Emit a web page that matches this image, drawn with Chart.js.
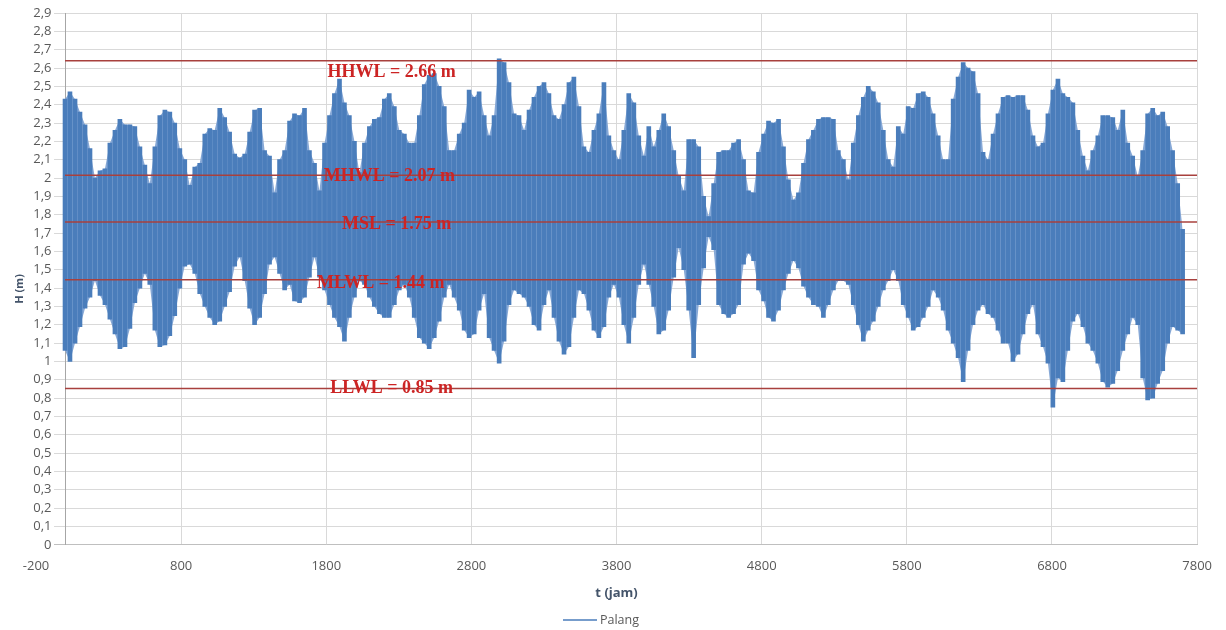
<!DOCTYPE html>
<html>
<head>
<meta charset="utf-8">
<script src="https://cdn.jsdelivr.net/npm/chart.js@4.4.1/dist/chart.umd.min.js"></script>
<style>
  html, body { margin: 0; padding: 0; background: #fff; }
  #wrap { width: 1226px; height: 630px; position: relative; }
</style>
</head>
<body>
<div id="wrap"><canvas id="tideChart"></canvas></div>
<script>
// hourly tide record, read as high / low envelope every ~34 h
const tideHours = [
  0, 34, 69, 103, 138, 172, 206, 241, 275, 309, 344, 378, 413, 447, 481, 516,
  550, 584, 619, 653, 688, 722, 756, 791, 825, 859, 894, 928, 963, 997, 1031, 1066,
  1100, 1134, 1169, 1203, 1238, 1272, 1306, 1341, 1375, 1409, 1444, 1478, 1513, 1547, 1581, 1616,
  1650, 1684, 1719, 1753, 1788, 1822, 1856, 1891, 1925, 1959, 1994, 2028, 2063, 2097, 2131, 2166,
  2200, 2234, 2269, 2303, 2338, 2372, 2406, 2441, 2475, 2509, 2544, 2578, 2613, 2647, 2681, 2716,
  2750, 2784, 2819, 2853, 2888, 2922, 2956, 2991, 3025, 3059, 3094, 3128, 3163, 3197, 3231, 3266,
  3300, 3334, 3369, 3403, 3438, 3472, 3506, 3541, 3575, 3609, 3644, 3678, 3713, 3747, 3781, 3816,
  3850, 3884, 3919, 3953, 3988, 4022, 4056, 4091, 4125, 4159, 4194, 4228, 4263, 4297, 4331, 4366,
  4400, 4434, 4469, 4503, 4538, 4572, 4606, 4641, 4675, 4709, 4744, 4778, 4813, 4847, 4881, 4916,
  4950, 4984, 5019, 5053, 5088, 5122, 5156, 5191, 5225, 5259, 5294, 5328, 5363, 5397, 5431, 5466,
  5500, 5534, 5569, 5603, 5638, 5672, 5706, 5741, 5775, 5809, 5844, 5878, 5913, 5947, 5981, 6016,
  6050, 6084, 6119, 6153, 6188, 6222, 6256, 6291, 6325, 6359, 6394, 6428, 6463, 6497, 6531, 6566,
  6600, 6634, 6669, 6703, 6738, 6772, 6806, 6841, 6875, 6909, 6944, 6978, 7013, 7047, 7081, 7116,
  7150, 7184, 7219, 7253, 7288, 7322, 7356, 7391, 7425, 7459, 7494, 7528, 7563, 7597, 7631, 7666,
  7700
];

const highWater = [
  2.43, 2.47, 2.43, 2.36, 2.29, 2.16, 2.00, 2.04, 2.05, 2.19, 2.26, 2.32, 2.29, 2.29, 2.28, 2.17, 2.07, 1.97, 2.17, 2.34,
  2.37, 2.36, 2.30, 2.16, 2.10, 1.96, 2.06, 2.08, 2.24, 2.27, 2.26, 2.38, 2.33, 2.25, 2.13, 2.11, 2.13, 2.25, 2.37,
  2.38, 2.15, 2.12, 1.92, 2.10, 2.15, 2.31, 2.35, 2.34, 2.38, 2.15, 2.08, 1.93, 2.19, 2.34, 2.46, 2.54, 2.41, 2.34, 2.20,
  2.03, 2.19, 2.28, 2.32, 2.33, 2.43, 2.46, 2.39, 2.26, 2.24, 2.19, 2.19, 2.34, 2.51, 2.56, 2.57, 2.50, 2.39, 2.15,
  2.15, 2.24, 2.30, 2.48, 2.44, 2.47, 2.34, 2.23, 2.34, 2.65, 2.63, 2.52, 2.35, 2.34, 2.26, 2.37, 2.44, 2.50, 2.52, 2.46,
  2.34, 2.32, 2.40, 2.52, 2.55, 2.39, 2.17, 2.14, 2.26, 2.35, 2.52, 2.23, 2.15, 2.10, 2.26, 2.46, 2.41, 2.23, 2.12,
  2.28, 2.17, 2.26, 2.35, 2.28, 2.15, 2.01, 1.93, 2.21, 2.21, 2.17, 1.90, 1.79, 1.97, 2.14, 2.15, 2.15, 2.19, 2.21, 2.10,
  1.93, 1.92, 2.14, 2.24, 2.31, 2.30, 2.32, 2.17, 1.99, 1.88, 1.92, 2.08, 2.21, 2.26, 2.32, 2.33, 2.33, 2.32, 2.15,
  2.10, 1.99, 2.19, 2.34, 2.44, 2.50, 2.47, 2.41, 2.26, 2.10, 2.06, 2.28, 2.24, 2.39, 2.38, 2.46, 2.47, 2.44, 2.35, 2.23,
  2.10, 2.10, 2.43, 2.55, 2.63, 2.60, 2.58, 2.46, 2.14, 2.10, 2.24, 2.35, 2.44, 2.45, 2.44, 2.45, 2.45, 2.37, 2.23,
  2.17, 2.19, 2.35, 2.48, 2.54, 2.46, 2.44, 2.41, 2.26, 2.12, 2.04, 2.15, 2.23, 2.34, 2.34, 2.33, 2.26, 2.37, 2.19, 2.12,
  2.01, 2.15, 2.35, 2.38, 2.34, 2.36, 2.28, 2.15, 1.97, 1.72
];

const lowWater = [
  1.06, 1.00, 1.10, 1.19, 1.29, 1.35, 1.44, 1.36, 1.31, 1.23, 1.15, 1.07, 1.08, 1.18, 1.32, 1.40, 1.48, 1.42, 1.17, 1.08,
  1.09, 1.14, 1.25, 1.40, 1.52, 1.53, 1.48, 1.37, 1.30, 1.24, 1.20, 1.22, 1.30, 1.38, 1.52, 1.57, 1.44, 1.29, 1.20,
  1.24, 1.37, 1.53, 1.57, 1.48, 1.39, 1.42, 1.33, 1.32, 1.35, 1.46, 1.57, 1.46, 1.39, 1.31, 1.24, 1.19, 1.11, 1.24, 1.35,
  1.44, 1.42, 1.35, 1.30, 1.26, 1.24, 1.24, 1.31, 1.39, 1.42, 1.35, 1.24, 1.13, 1.10, 1.07, 1.13, 1.22, 1.35, 1.42,
  1.35, 1.28, 1.17, 1.13, 1.15, 1.28, 1.37, 1.13, 1.06, 0.99, 1.11, 1.31, 1.39, 1.37, 1.35, 1.30, 1.20, 1.17, 1.31, 1.39,
  1.24, 1.11, 1.04, 1.08, 1.24, 1.39, 1.37, 1.28, 1.17, 1.13, 1.19, 1.35, 1.42, 1.35, 1.20, 1.10, 1.24, 1.42, 1.53,
  1.42, 1.30, 1.15, 1.17, 1.28, 1.46, 1.62, 1.50, 1.28, 1.02, 1.31, 1.51, 1.68, 1.61, 1.31, 1.26, 1.24, 1.26, 1.31, 1.53,
  1.59, 1.55, 1.39, 1.33, 1.24, 1.22, 1.28, 1.39, 1.48, 1.55, 1.51, 1.41, 1.35, 1.31, 1.30, 1.24, 1.31, 1.39, 1.44,
  1.44, 1.42, 1.31, 1.20, 1.11, 1.17, 1.22, 1.30, 1.39, 1.44, 1.50, 1.44, 1.31, 1.24, 1.17, 1.19, 1.24, 1.30, 1.39, 1.35,
  1.28, 1.17, 1.10, 1.02, 0.89, 1.06, 1.20, 1.28, 1.31, 1.26, 1.24, 1.17, 1.10, 1.10, 1.00, 1.04, 1.15, 1.26, 1.31,
  1.15, 1.08, 0.99, 0.75, 0.91, 0.89, 1.06, 1.22, 1.26, 1.19, 1.10, 1.06, 0.99, 0.89, 0.86, 0.88, 0.95, 1.06, 1.15, 1.24,
  1.20, 0.91, 0.79, 0.80, 0.88, 0.95, 1.10, 1.19, 1.17, 1.15
];

const levelNames = ["HHWL = 2.66 m", "MHWL = 2.07 m", "MSL = 1.75 m", "MLWL = 1.44 m", "LLWL = 0.85 m"];
const levelValues = [2.64, 2.015, 1.76, 1.445, 0.853];

const xTickValues = [-200, 800, 1800, 2800, 3800, 4800, 5800, 6800, 7800];
const yTickValues = [0, 0.1, 0.2, 0.3, 0.4, 0.5, 0.6, 0.7, 0.8, 0.9, 1, 1.1, 1.2, 1.3, 1.4,
  1.5, 1.6, 1.7, 1.8, 1.9, 2, 2.1, 2.2, 2.3, 2.4, 2.5, 2.6, 2.7, 2.8, 2.9];

const seriesColor = "#4a7dbb";
const bandColor = "#86a8d6";
const levelColor = "#a8403d";
const gridColor = "#d9d9d9";
const tickColor = "#595959";
const titleColor = "#44546a";

// level captions sit on top of the record
const levelLabels = {
  id: "levelLabels",
  afterDatasetsDraw(chart, args, opts) {
    const { ctx, scales: { x, y } } = chart;
    ctx.save();
    ctx.font = "bold 18px 'Liberation Serif', 'Times New Roman', serif";
    ctx.fillStyle = opts.color;
    ctx.textAlign = "center";
    ctx.textBaseline = "middle";
    levelNames.forEach((name, i) => {
      ctx.fillText(name, x.getPixelForValue(opts.hours[i]), y.getPixelForValue(levelValues[i]) + opts.offsets[i]);
    });
    ctx.restore();
  }
};

// y title and bottom legend drawn by hand
const extras = {
  id: "extras",
  afterDraw(chart) {
    const { ctx, chartArea } = chart;
    ctx.save();
    ctx.fillStyle = titleColor;
    ctx.font = "bold 11px 'Open Sans', sans-serif";
    ctx.textAlign = "center";
    ctx.textBaseline = "middle";
    ctx.translate(20, (chartArea.top + chartArea.bottom) / 2 + 10);
    ctx.rotate(-Math.PI / 2);
    ctx.fillText("H (m)", 0, 0);
    ctx.restore();

    const series = chart.data.datasets.find((d) => d.label === "Palang");
    ctx.save();
    ctx.strokeStyle = series.backgroundColor;
    ctx.lineWidth = 1.5;
    ctx.beginPath();
    ctx.moveTo(563, 620);
    ctx.lineTo(597, 620);
    ctx.stroke();
    ctx.fillStyle = tickColor;
    ctx.font = "12.5px 'Open Sans', sans-serif";
    ctx.textBaseline = "middle";
    ctx.fillText(series.label, 600, 620);
    ctx.restore();
  }
};

const levelSets = levelValues.map((v) => ({
  type: "line",
  label: "level",
  data: [{ x: 0, y: v }, { x: 7800, y: v }],
  borderColor: levelColor,
  borderWidth: 1.5,
  pointRadius: 0,
  order: 0
}));

new Chart(document.getElementById("tideChart"), {
  type: "bar",
  data: {
    datasets: [
      ...levelSets,
      {
        label: "Palang",
        data: tideHours.map((h, i) => ({ x: h, y: [lowWater[i], highWater[i]] })),
        backgroundColor: seriesColor,
        borderWidth: 0,
        barThickness: 4,
        grouped: false,
        order: 1
      },
      {
        type: "line",
        label: "band-high",
        data: tideHours.map((h, i) => ({ x: h, y: highWater[i] })),
        borderWidth: 0,
        borderColor: "rgba(0,0,0,0)",
        pointRadius: 0,
        backgroundColor: bandColor,
        fill: "+1",
        order: 2
      },
      {
        type: "line",
        label: "band-low",
        data: tideHours.map((h, i) => ({ x: h, y: lowWater[i] })),
        borderWidth: 0,
        borderColor: "rgba(0,0,0,0)",
        pointRadius: 0,
        fill: false,
        order: 2
      }
    ]
  },
  options: {
    responsive: true,
    maintainAspectRatio: false,
    animation: false,
    devicePixelRatio: 1,
    layout: { padding: { left: 36, right: 23, top: 13, bottom: 17.5 } },
    plugins: {
      legend: { display: false },
      tooltip: { enabled: false },
      levelLabels: {
        color: "#cc2424",
        hours: [2250, 2235, 2285, 2175, 2250],
        offsets: [12, 1, 2, 4, 0]
      }
    },
    scales: {
      x: {
        type: "linear",
        min: -200,
        max: 7800,
        offset: false,
        afterBuildTicks: (s) => { s.ticks = xTickValues.map((v) => ({ value: v })); },
        grid: {
          color: (c) => (c.tick && c.tick.value === -200 ? "rgba(0,0,0,0)" : gridColor),
          drawTicks: false,
          offset: false
        },
        border: { color: "#bfbfbf" },
        ticks: {
          color: tickColor,
          font: { family: "'Open Sans', sans-serif", size: 13 },
          padding: 14,
          maxRotation: 0,
          autoSkip: false,
          callback: (v) => String(v)
        },
        title: {
          display: true,
          text: "t (jam)",
          color: titleColor,
          font: { family: "'Open Sans', sans-serif", size: 13, weight: "bold" },
          padding: { top: -2.5, bottom: 11 }
        }
      },
      y: {
        type: "linear",
        position: { x: 0 },
        min: 0,
        max: 2.9,
        afterBuildTicks: (s) => { s.ticks = yTickValues.map((v) => ({ value: v })); },
        grid: { color: gridColor, drawTicks: false },
        border: { color: "#a6a6a6" },
        ticks: {
          color: tickColor,
          font: { family: "'Open Sans', sans-serif", size: 13 },
          autoSkip: false,
          showLabelBackdrop: true,
          backdropColor: "#ffffff",
          backdropPadding: { top: 1, bottom: 1, left: 30, right: -11 },
          // trailing spaces keep the labels clear of the axis line
          callback: (v) => String(Number(v.toFixed(1))).replace(".", ",") + "    "
        }
      }
    }
  },
  plugins: [levelLabels, extras]
});
</script>
</body>
</html>
